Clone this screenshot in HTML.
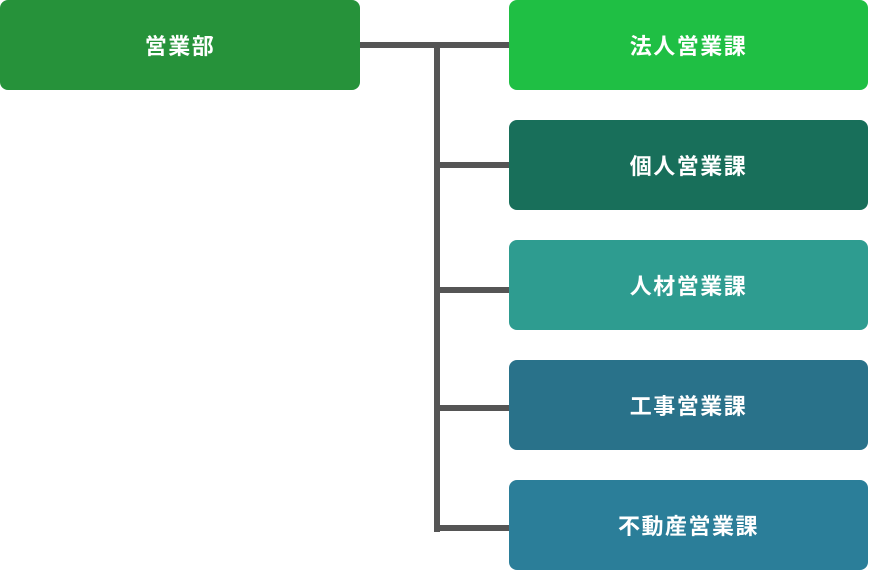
<!DOCTYPE html>
<html>
<head>
<meta charset="utf-8">
<style>
  html, body { margin: 0; padding: 0; background: #ffffff; }
  body { width: 869px; height: 570px; position: relative; overflow: hidden;
    font-family: "Liberation Sans", "Noto Sans CJK JP", sans-serif; }
  .box { position: absolute; border-radius: 8px; color: #ffffff; font-weight: 700;
    font-size: 22px; letter-spacing: 1.5px; display: flex; align-items: center; justify-content: center; }
  .line { position: absolute; background: #555555; }
</style>
</head>
<body>
  <!-- connectors -->
  <div class="line" style="left:358px; top:42px; width:153px; height:6px;"></div>
  <div class="line" style="left:434px; top:42px; width:6px; height:490px;"></div>
  <div class="line" style="left:434px; top:162px; width:77px; height:6px;"></div>
  <div class="line" style="left:434px; top:287px; width:77px; height:6px;"></div>
  <div class="line" style="left:434px; top:405px; width:77px; height:6px;"></div>
  <div class="line" style="left:434px; top:525px; width:77px; height:6px;"></div>

  <div class="box" style="left:0; top:0; width:360px; height:90px; background:#26923a;">営業部</div>

  <div class="box" style="left:509px; top:0; width:359px; height:90px; background:#1fbf44;">法人営業課</div>
  <div class="box" style="left:509px; top:120px; width:359px; height:90px; background:#186f5a;">個人営業課</div>
  <div class="box" style="left:509px; top:240px; width:359px; height:90px; background:#2e9c90;">人材営業課</div>
  <div class="box" style="left:509px; top:360px; width:359px; height:90px; background:#29728a;">工事営業課</div>
  <div class="box" style="left:509px; top:480px; width:359px; height:90px; background:#2b7e99;">不動産営業課</div>
</body>
</html>
